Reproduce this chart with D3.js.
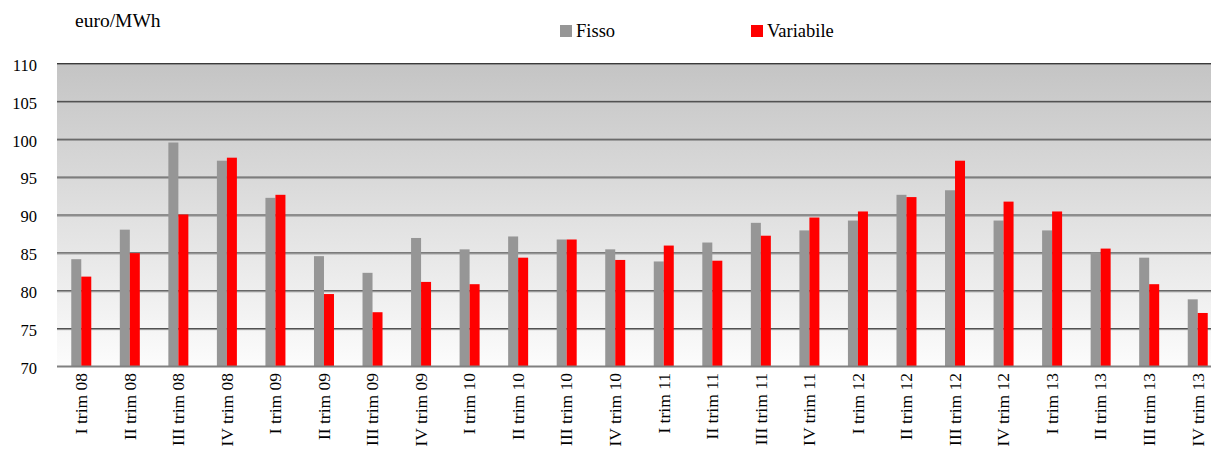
<!DOCTYPE html>
<html>
<head>
<meta charset="utf-8">
<script src="https://cdn.jsdelivr.net/npm/d3@7"></script>
<style>
  html, body { margin: 0; padding: 0; background: #fff; }
  svg { display: block; font-family: "Liberation Serif", "Times New Roman", serif; }
</style>
</head>
<body>
<svg id="chart" width="1211" height="450"></svg>
<script>
// Quarterly electricity prices, euro/MWh
const categories = [
  "I trim 08", "II trim 08", "III trim 08", "IV trim 08",
  "I trim 09", "II trim 09", "III trim 09", "IV trim 09",
  "I trim 10", "II trim 10", "III trim 10", "IV trim 10",
  "I trim 11", "II trim 11", "III trim 11", "IV trim 11",
  "I trim 12", "II trim 12", "III trim 12", "IV trim 12",
  "I trim 13", "II trim 13", "III trim 13", "IV trim 13"
];
const fisso = [
  84.1, 88.0, 99.5, 97.1, 92.2, 84.5, 82.3, 86.9,
  85.4, 87.1, 86.7, 85.4, 83.8, 86.3, 88.9, 87.9,
  89.2, 92.6, 93.2, 89.2, 87.9, 85.0, 84.3, 78.8
];
const variabile = [
  81.8, 84.9, 90.0, 97.5, 92.6, 79.5, 77.1, 81.1,
  80.8, 84.3, 86.7, 84.0, 85.9, 83.9, 87.2, 89.6,
  90.4, 92.3, 97.1, 91.7, 90.4, 85.5, 80.8, 77.0
];
const yTicks = [70, 75, 80, 85, 90, 95, 100, 105, 110];
const seriesNames = ["Fisso", "Variabile"];
const seriesColors = ["#969696", "#ff0000"];

const svg = d3.select("#chart");
const plot = { left: 57, right: 1222, top: 63, bottom: 366 };
const serif = "Liberation Serif, Times New Roman, serif";

const x = d3.scaleBand().domain(categories).range([plot.left, plot.right]).padding(0);
const y = d3.scaleLinear().domain([70, 110]).range([plot.bottom, plot.top]);
const barW = 10;

// Plot background gradient
const defs = svg.append("defs");
const grad = defs.append("linearGradient").attr("id", "bg").attr("x1", 0).attr("y1", 0).attr("x2", 0).attr("y2", 1);
grad.append("stop").attr("offset", "0%").attr("stop-color", "#c4c4c4");
grad.append("stop").attr("offset", "100%").attr("stop-color", "#fcfcfc");

svg.append("rect")
  .attr("x", plot.left).attr("y", y(110))
  .attr("width", plot.right - plot.left).attr("height", y(70) - y(110))
  .attr("fill", "url(#bg)");

// Gridlines
const grid = svg.append("g");
yTicks.filter(t => t > 70).forEach(t => {
  grid.append("line")
    .attr("x1", plot.left).attr("x2", plot.right)
    .attr("y1", y(t) + 0.5).attr("y2", y(t) + 0.5)
    .attr("stroke", "#3a3a3a").attr("stroke-width", 1);
  grid.append("line")
    .attr("x1", plot.left).attr("x2", plot.right)
    .attr("y1", y(t) + 1.5).attr("y2", y(t) + 1.5)
    .attr("stroke", "#8c8c8c").attr("stroke-width", 1);
});

// Bars
const bars = svg.append("g");
bars.selectAll("rect.fisso").data(fisso).join("rect")
  .attr("class", "fisso")
  .attr("x", (d, i) => x(categories[i]) + x.bandwidth() / 2 - barW)
  .attr("y", d => y(d))
  .attr("width", barW)
  .attr("height", d => y(70) - y(d))
  .attr("fill", seriesColors[0]);
bars.selectAll("rect.variabile").data(variabile).join("rect")
  .attr("class", "variabile")
  .attr("x", (d, i) => x(categories[i]) + x.bandwidth() / 2)
  .attr("y", d => y(d))
  .attr("width", barW)
  .attr("height", d => y(70) - y(d))
  .attr("fill", seriesColors[1]);

// Baseline
svg.append("line")
  .attr("x1", plot.left).attr("x2", plot.right)
  .attr("y1", y(70) + 0.5).attr("y2", y(70) + 0.5)
  .attr("stroke", "#808080").attr("stroke-width", 2);

// Y axis labels
const yAxis = d3.axisLeft(y).tickValues(yTicks).tickSize(0).tickPadding(0);
const yg = svg.append("g").attr("transform", "translate(37,2)").call(yAxis);
yg.select(".domain").remove();
yg.selectAll("text")
  .attr("font-family", serif)
  .attr("font-size", 16.5).attr("fill", "#000");

// X axis labels, rotated
const xAxis = d3.axisBottom(x).tickSize(0).tickPadding(0);
const xg = svg.append("g").attr("transform", `translate(0,${plot.bottom})`).call(xAxis);
xg.select(".domain").remove();
xg.selectAll("text")
  .attr("font-family", serif)
  .attr("font-size", 17.5).attr("fill", "#000")
  .attr("text-anchor", "end")
  .attr("dy", "0.33em")
  .attr("transform", "translate(0,7) rotate(-90)")
  .attr("x", 0).attr("y", 0);

// Unit label
svg.append("text")
  .attr("x", 75).attr("y", 27)
  .attr("font-family", serif)
  .attr("font-size", 19.5).attr("fill", "#000")
  .text("euro/MWh");

// Legend
const legendX = [560, 751];
const legend = svg.append("g");
seriesNames.forEach((name, i) => {
  legend.append("rect")
    .attr("x", legendX[i]).attr("y", 25)
    .attr("width", 12).attr("height", 12)
    .attr("fill", seriesColors[i]);
  legend.append("text")
    .attr("x", legendX[i] + 16).attr("y", 37)
    .attr("font-family", serif)
    .attr("font-size", 18.5).attr("fill", "#000")
    .text(name);
});
</script>
</body>
</html>
